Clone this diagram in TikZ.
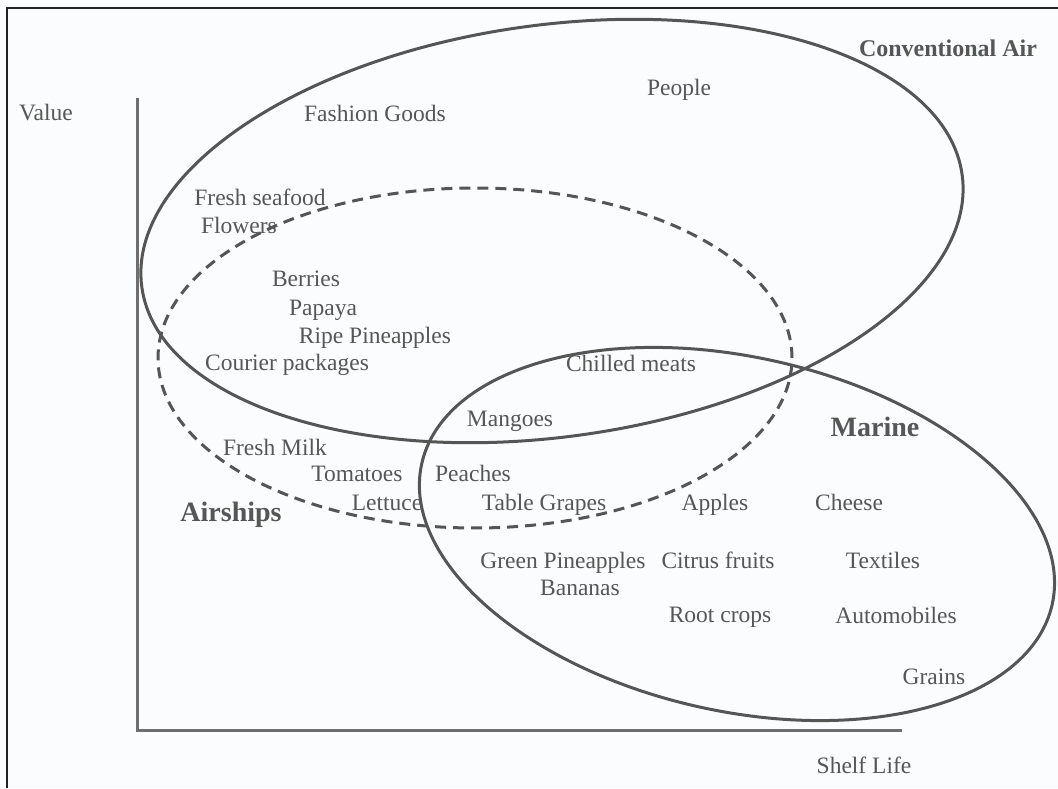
\documentclass[tikz,border=0pt]{standalone}
\usepackage{fontspec}
\setmainfont{Liberation Serif}
\definecolor{ink}{HTML}{565656}
\definecolor{curve}{HTML}{555555}
\definecolor{axisgray}{HTML}{6E6E6E}
\definecolor{framecol}{HTML}{222222}
\definecolor{paper}{HTML}{FBFCFD}
\begin{document}
\begin{tikzpicture}[x=1pt,y=1pt,
  lbl/.style={text=ink, inner sep=0pt, anchor=mid, yshift=-6pt, font=\fontsize{23.5}{28}\selectfont},
  biglbl/.style={text=ink, inner sep=0pt, anchor=mid, yshift=-6pt, font=\fontsize{28}{32}\selectfont\bfseries},
  airlbl/.style={text=ink, inner sep=0pt, anchor=mid, yshift=-6pt, font=\fontsize{24}{28}\selectfont\bfseries},
  setline/.style={draw=curve, line width=3pt},
  dashline/.style={draw=curve, line width=3pt, dash pattern=on 11pt off 7pt},
  axisline/.style={draw=axisgray, line width=3pt},
  frameline/.style={draw=framecol, line width=2.5pt}]
\fill[paper] (0,0) rectangle (1058,788);
\useasboundingbox (0,0) rectangle (1058,788);
% frame
\coordinate (fbl) at (7,0);
\coordinate (ftl) at (7,780);
\coordinate (ftr) at (1058,780);
\draw[frameline] (fbl) -- (ftl) -- (ftr);
% axes
\coordinate (ytop) at (137,690);
\coordinate (origin) at (137,58);
\coordinate (xend) at (902,58);
\draw[axisline] (ytop) -- (origin) -- (xend);
% sets
\coordinate (cair) at (552,557);
\coordinate (cship) at (475,430);
\coordinate (cmar) at (737,254);
\draw[setline, rotate around={7.8:(cair)}] (cair) ellipse [x radius=414pt, y radius=206pt];
\draw[dashline] (cship) ellipse [x radius=317pt, y radius=170pt];
\draw[setline, rotate around={-12.6:(cmar)}] (cmar) ellipse [x radius=323pt, y radius=177pt];
% labels
\node[lbl] (value) at (46,676) {Value};
\node[airlbl] (convair) at (948,740) {Conventional Air};
\node[lbl] (people) at (679,701) {People};
\node[lbl] (fashion) at (375,675) {Fashion Goods};
\node[lbl] (seafood) at (260,591) {Fresh seafood};
\node[lbl] (flowers) at (239,563) {Flowers};
\node[lbl] (berries) at (306,510) {Berries};
\node[lbl] (papaya) at (323,481) {Papaya};
\node[lbl] (ripe) at (375,453) {Ripe Pineapples};
\node[lbl] (courier) at (287,426) {Courier packages};
\node[lbl] (chilled) at (631,425) {Chilled meats};
\node[lbl] (mangoes) at (510,370) {Mangoes};
\node[lbl] (milk) at (275,341) {Fresh Milk};
\node[lbl] (tomatoes) at (357,315) {Tomatoes};
\node[lbl] (peaches) at (473,315) {Peaches};
\node[lbl] (lettuce) at (387,286) {Lettuce};
\node[biglbl] (airships) at (231,275) {Airships};
\node[lbl] (grapes) at (544,286) {Table Grapes};
\node[lbl] (apples) at (715,286) {Apples};
\node[lbl] (cheese) at (849,286) {Cheese};
\node[biglbl] (marine) at (875,360) {Marine};
\node[lbl] (greenpine) at (563,228) {Green Pineapples};
\node[lbl] (citrus) at (718,228) {Citrus fruits};
\node[lbl] (textiles) at (883,228) {Textiles};
\node[lbl] (bananas) at (580,201) {Bananas};
\node[lbl] (root) at (720,174) {Root crops};
\node[lbl] (auto) at (896,173) {Automobiles};
\node[lbl] (grains) at (934,112) {Grains};
\node[lbl] (shelf) at (864,23) {Shelf Life};
\end{tikzpicture}
\end{document}
